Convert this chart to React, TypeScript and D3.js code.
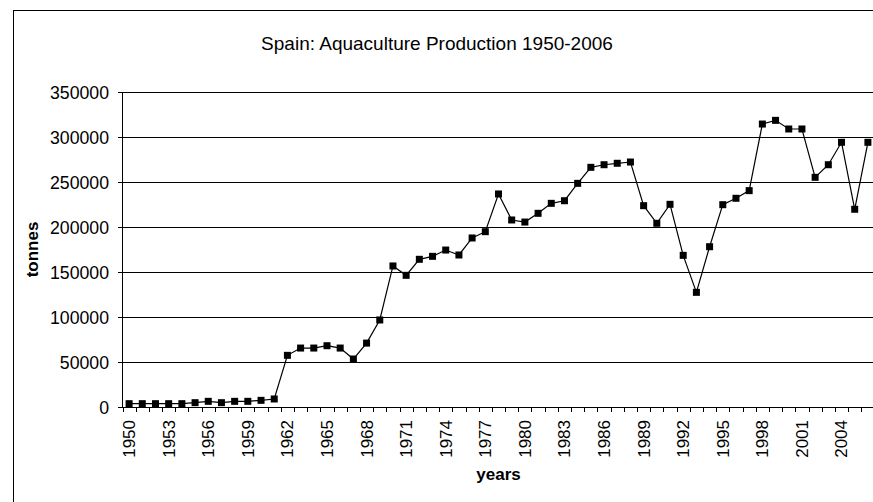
import React from "react";
import * as d3 from "d3";

const years: number[] = d3.range(1950, 2007);
const production: number[] = [
  3700, 3700, 3700, 3700, 3700, 4800, 6300, 4800, 6300, 6300, 7400, 8900,
  57400, 65500, 65500, 68100, 65500, 53300, 71000, 96700,
  156700, 146300, 164100, 167400, 174400, 168900, 187800, 194800, 236700, 207800,
  205500, 215200, 226300, 229200, 248500, 266300, 269200, 270800, 272200, 223700,
  204100, 225200, 168500, 127400, 178100, 224800, 231900, 240400, 314400, 318500,
  308900, 308900, 255200, 269200, 294100, 219700, 294100,
];
const yTicks: number[] = [0, 50000, 100000, 150000, 200000, 250000, 300000, 350000];
const labelYears: number[] = years.filter((y) => (y - 1950) % 3 === 0);

const title = "Spain: Aquaculture Production 1950-2006";
const xTitle = "years";
const yTitle = "tonnes";

export default function App() {
  const W = 873;
  const H = 502;
  const left = 122.5;
  const right = 874.5;
  const top = 92;
  const bottom = 407;
  const font = "'Liberation Sans', Arial, sans-serif";

  const x = d3.scaleBand<number>().domain(years).range([left, right]).padding(0);
  const y = d3.scaleLinear().domain([0, 350000]).range([bottom, top]);
  const cx = (yr: number) => (x(yr) as number) + x.bandwidth() / 2;

  const line = d3
    .line<number>()
    .x((_, i) => cx(years[i]))
    .y((d) => y(d));

  const tickEdges = years.map((yr) => x(yr) as number).concat([right]);

  return (
    <svg
      width={W}
      height={H}
      style={{ position: "absolute", left: 0, top: 0, background: "#fff" }}
      fontFamily={font}
    >
      <rect x={13.5} y={10.5} width={W} height={H} fill="#fff" stroke="#000" strokeWidth={1} />
      <text x={437} y={50} textAnchor="middle" fontSize={19} fill="#000">
        {title}
      </text>
      {/* gridlines */}
      {yTicks.map((t) => (
        <g key={t}>
          <line
            x1={118}
            x2={right}
            y1={Math.round(y(t)) + 0.5}
            y2={Math.round(y(t)) + 0.5}
            stroke="#000"
            strokeWidth={1}
          />
          <text
            x={109}
            y={Math.round(y(t)) + 0.5}
            dy="0.35em"
            textAnchor="end"
            fontSize={17.7}
            fill="#000"
          >
            {t}
          </text>
        </g>
      ))}
      {/* y axis */}
      <line x1={left} x2={left} y1={top} y2={bottom + 0.5} stroke="#000" strokeWidth={1} />
      {/* x ticks */}
      {tickEdges.map((e, i) => (
        <line
          key={i}
          x1={Math.round(e) + 0.5}
          x2={Math.round(e) + 0.5}
          y1={bottom}
          y2={bottom + 5}
          stroke="#000"
          strokeWidth={1}
        />
      ))}
      {labelYears.map((yr) => (
        <text
          key={yr}
          transform={`translate(${cx(yr)},420) rotate(-90)`}
          textAnchor="end"
          dy="0.35em"
          fontSize={17}
          fill="#000"
        >
          {yr}
        </text>
      ))}
      <path d={line(production) || ""} fill="none" stroke="#000" strokeWidth={1.2} />
      {production.map((v, i) => (
        <rect
          key={i}
          x={cx(years[i]) - 3.5}
          y={y(v) - 3.5}
          width={7}
          height={7}
          fill="#000"
        />
      ))}
      <text
        transform={`translate(38,${(top + bottom) / 2}) rotate(-90)`}
        textAnchor="middle"
        fontSize={17}
        fontWeight="bold"
        fill="#000"
      >
        {yTitle}
      </text>
      <text x={(left + right) / 2} y={480} textAnchor="middle" fontSize={17} fontWeight="bold" fill="#000">
        {xTitle}
      </text>
    </svg>
  );
}
